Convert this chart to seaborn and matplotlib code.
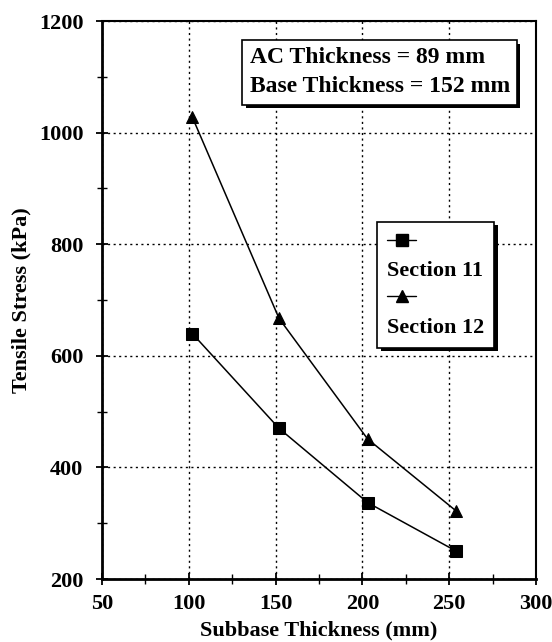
import numpy as np
import pandas as pd
import matplotlib
matplotlib.use("Agg")
import matplotlib.pyplot as plt
import matplotlib.patheffects as pe
from matplotlib.lines import Line2D
from matplotlib.ticker import MultipleLocator
import seaborn as sns

# ---- data ----
thickness = [102, 152, 203, 254]
section11 = [640, 470, 337, 250]
section12 = [1028, 667, 451, 322]
sections = ["Section 11", "Section 12"]
xticks = [50, 100, 150, 200, 250, 300]
yticks = [200, 400, 600, 800, 1000, 1200]
note_lines = ["AC Thickness = 89 mm", "Base Thickness = 152 mm"]

df = pd.DataFrame({
    "Subbase": thickness * 2,
    "Stress": section11 + section12,
    "Section": [sections[0]] * 4 + [sections[1]] * 4,
})

sns.set_theme(style="white")
plt.rcParams["font.family"] = ["Liberation Serif", "DejaVu Serif"]
plt.rcParams["font.weight"] = "bold"
plt.rcParams["text.color"] = "black"
plt.rcParams["axes.labelcolor"] = "black"
plt.rcParams["xtick.color"] = "black"
plt.rcParams["ytick.color"] = "black"

fig = plt.figure(figsize=(5.52, 6.42), dpi=100)
ax = fig.add_axes([0.1848, 0.0981, 0.7862, 0.869])

sns.lineplot(data=df, x="Subbase", y="Stress", style="Section",
             markers={"Section 11": "s", "Section 12": "^"}, dashes=False,
             color="black", linewidth=1.1, markersize=8,
             markeredgecolor="black", ax=ax, legend=False)

ax.set_xlim(50, 300)
ax.set_ylim(200, 1200)
ax.set_xticks(xticks)
ax.set_yticks(yticks)
ax.xaxis.set_minor_locator(MultipleLocator(25))
ax.yaxis.set_minor_locator(MultipleLocator(100))
ax.tick_params(which="major", direction="inout", length=9, width=1.3,
               labelsize=16, colors="black", bottom=True, left=True, pad=6)
ax.tick_params(axis="y", which="major", pad=9)
ax.tick_params(which="minor", direction="inout", length=7, width=1.0,
               bottom=True, left=True)
for lab in ax.get_xticklabels() + ax.get_yticklabels():
    lab.set_fontweight("bold")
ax.grid(True, which="major", color="black", linestyle=(0, (1.5, 2.5)), linewidth=1.0)

for side, lw in {"left": 2.0, "bottom": 2.0, "top": 1.5, "right": 1.5}.items():
    ax.spines[side].set_color("black")
    ax.spines[side].set_linewidth(lw)
    ax.spines[side].set_visible(True)

ax.set_xlabel("Subbase Thickness (mm)", fontsize=16, fontweight="bold", labelpad=5)
ax.set_ylabel("Tensile Stress (kPa)", fontsize=16, fontweight="bold", labelpad=5)

# note box
t = ax.text(0.34, 0.908, "\n".join(note_lines), transform=ax.transAxes,
            ha="left", va="center", multialignment="left",
            fontsize=17, fontweight="bold", linespacing=1.5,
            bbox=dict(boxstyle="square,pad=0.3", facecolor="white",
                      edgecolor="black", linewidth=1.2))
t.get_bbox_patch().set_path_effects([
    pe.SimplePatchShadow(offset=(2.5, -2.5), shadow_rgbFace="black", alpha=1.0),
    pe.Normal()])

# legend: handle row above label row
h11 = Line2D([], [], color="black", lw=1, marker="s", markersize=8)
h12 = Line2D([], [], color="black", lw=1, marker="^", markersize=8)
blank = Line2D([], [], color="none")
hl = 1.3
leg = ax.legend([h11, blank, h12, blank], ["", sections[0], "", sections[1]],
                loc="upper left", bbox_to_anchor=(0.634, 0.640),
                borderaxespad=0,
                prop={"weight": "bold", "size": 16},
                handlelength=hl, handletextpad=-hl, labelspacing=0.35,
                borderpad=0.45, fancybox=False, framealpha=1,
                edgecolor="black")
leg.get_frame().set_linewidth(1.2)
leg.get_frame().set_path_effects([
    pe.SimplePatchShadow(offset=(2.5, -2.5), shadow_rgbFace="black", alpha=1.0),
    pe.Normal()])

fig.savefig("out.png", dpi=100, facecolor="white")
